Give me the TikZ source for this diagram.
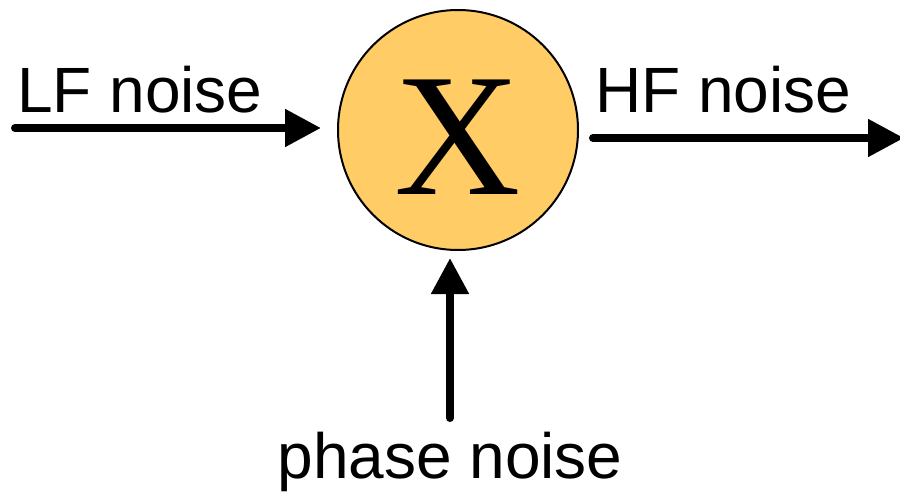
\documentclass[tikz,border=0pt]{standalone}
\usepackage{fontspec}
\setmainfont{Liberation Sans}
\newfontfamily\mixserif{Liberation Serif}
\usetikzlibrary{arrows.meta,calc}
\definecolor{MixFill}{HTML}{FFCC66}
\definecolor{MixInk}{HTML}{000000}

\begin{document}
\begin{tikzpicture}[x=1pt,y=1pt,font=\fontsize{64}{76}\selectfont,>=Latex]
\tikzset{
  mixer/.style={circle,draw=MixInk,line width=2pt,fill=MixFill,
                minimum size=240pt,inner sep=0pt},
  mixsym/.style={inner sep=0pt,text=MixInk,font=\mixserif\fontsize{175}{175}\selectfont},
  sig/.style={MixInk,line width=8pt,line cap=round,
              -{Triangle[length=36pt,width=36pt]}},
  siglab/.style={inner sep=0pt,text=MixInk}
}
\useasboundingbox (0,0) rectangle (900,491);

% ---------- the mixer ----------------------------------------------------
\node[mixer] (mix) at (458,361) {};
\node[mixsym] (xsym) at (458,354) {X};

% ---------- labels -------------------------------------------------------
\node[siglab,anchor=base west] (lf) at (17,378) {LF noise};
\node[siglab,anchor=base west] (hf) at (595,378) {HF noise};
\node[siglab,anchor=base] (pn) at (450,13) {phase noise};

% ---------- signal ends --------------------------------------------------
\coordinate (lfin) at (15,363);
\coordinate (hfout) at (904,353);
\coordinate (pnin) at (450,73);

% ---------- the three signals --------------------------------------------
\draw[sig,shorten >=16pt] (lfin) -- (lfin -| mix.west);
\draw[sig,shorten <=14pt] (hfout -| mix.east) -- (hfout);
\draw[sig,shorten >=7pt] (pnin) -- (pnin |- mix.south);
\end{tikzpicture}
\end{document}
